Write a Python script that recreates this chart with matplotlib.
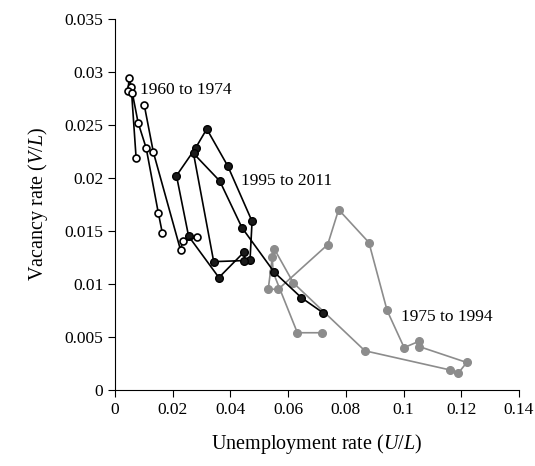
import matplotlib
matplotlib.use("Agg")
import matplotlib.pyplot as plt

plt.rcParams["font.family"] = ["Liberation Serif", "DejaVu Serif"]
plt.rcParams["mathtext.fontset"] = "custom"
plt.rcParams["mathtext.it"] = "Liberation Serif:italic"
plt.rcParams["mathtext.rm"] = "Liberation Serif"

# 1960 to 1974 (open circles)
u_60 = [0.0073, 0.0056, 0.0049, 0.0045, 0.0060, 0.0080, 0.0108, 0.0150, 0.0164]
v_60 = [0.0219, 0.0286, 0.0294, 0.0282, 0.0280, 0.0252, 0.0228, 0.0167, 0.0148]
u_60b = [0.0101, 0.0133, 0.0227, 0.0234, 0.0283]
v_60b = [0.0269, 0.0224, 0.0132, 0.0140, 0.0144]

# 1975 to 1994 (grey)
u_75 = [0.0719, 0.0632, 0.0548, 0.0545, 0.0531, 0.0566, 0.0737, 0.0775, 0.0880, 0.0943,
        0.1002, 0.1054, 0.1054, 0.1219, 0.1190, 0.1160, 0.0866, 0.0618, 0.0552]
v_75 = [0.0054, 0.0054, 0.0111, 0.0125, 0.0095, 0.0095, 0.0137, 0.0170, 0.0139, 0.0075,
        0.0040, 0.0046, 0.0041, 0.0026, 0.0016, 0.0019, 0.0037, 0.0101, 0.0133]

# 1995 to 2011 (black)
u_95 = [0.0447, 0.0360, 0.0255, 0.0213, 0.0279, 0.0318, 0.0391, 0.0475, 0.0468, 0.0447,
        0.0342, 0.0272, 0.0363, 0.0440, 0.0552, 0.0646, 0.0720]
v_95 = [0.0130, 0.0106, 0.0145, 0.0202, 0.0228, 0.0246, 0.0211, 0.0159, 0.0123, 0.0122,
        0.0121, 0.0223, 0.0197, 0.0153, 0.0111, 0.0087, 0.0073]

fig, ax = plt.subplots(figsize=(5.35, 4.66), dpi=100)
fig.subplots_adjust(left=0.215, right=0.97, top=0.96, bottom=0.163)

ax.plot(u_75, v_75, "-o", color="#8c8c8c", lw=1.2, ms=5.5)
ax.plot(u_95, v_95, "-o", color="black", mfc="#1a1a1a", lw=1.2, ms=5.5)
for u, v in [(u_60, v_60), (u_60b, v_60b)]:
    ax.plot(u, v, "-o", color="black", mfc="white", lw=1.2, ms=5, mew=1.2)

ax.text(0.0085, 0.0283, "1960 to 1974", fontsize=12.5, va="center")
ax.text(0.0435, 0.0197, "1995 to 2011", fontsize=12.5, va="center")
ax.text(0.0990, 0.0069, "1975 to 1994", fontsize=12.5, va="center")

ax.set_xlim(0, 0.14)
ax.set_ylim(0, 0.035)
ax.set_xticks([0, 0.02, 0.04, 0.06, 0.08, 0.1, 0.12, 0.14])
ax.set_xticklabels(["0", "0.02", "0.04", "0.06", "0.08", "0.1", "0.12", "0.14"])
ax.set_yticks([0, 0.005, 0.01, 0.015, 0.02, 0.025, 0.03, 0.035])
ax.set_yticklabels(["0", "0.005", "0.01", "0.015", "0.02", "0.025", "0.03", "0.035"])
ax.tick_params(labelsize=12.5, direction="out", length=5)
for s in ["top", "right"]:
    ax.spines[s].set_visible(False)
ax.set_xlabel("Unemployment rate ($U/L$)", fontsize=14.5, labelpad=10)
ax.set_ylabel("Vacancy rate ($V/L$)", fontsize=14.5, labelpad=10)

fig.savefig("out.png", dpi=100)
